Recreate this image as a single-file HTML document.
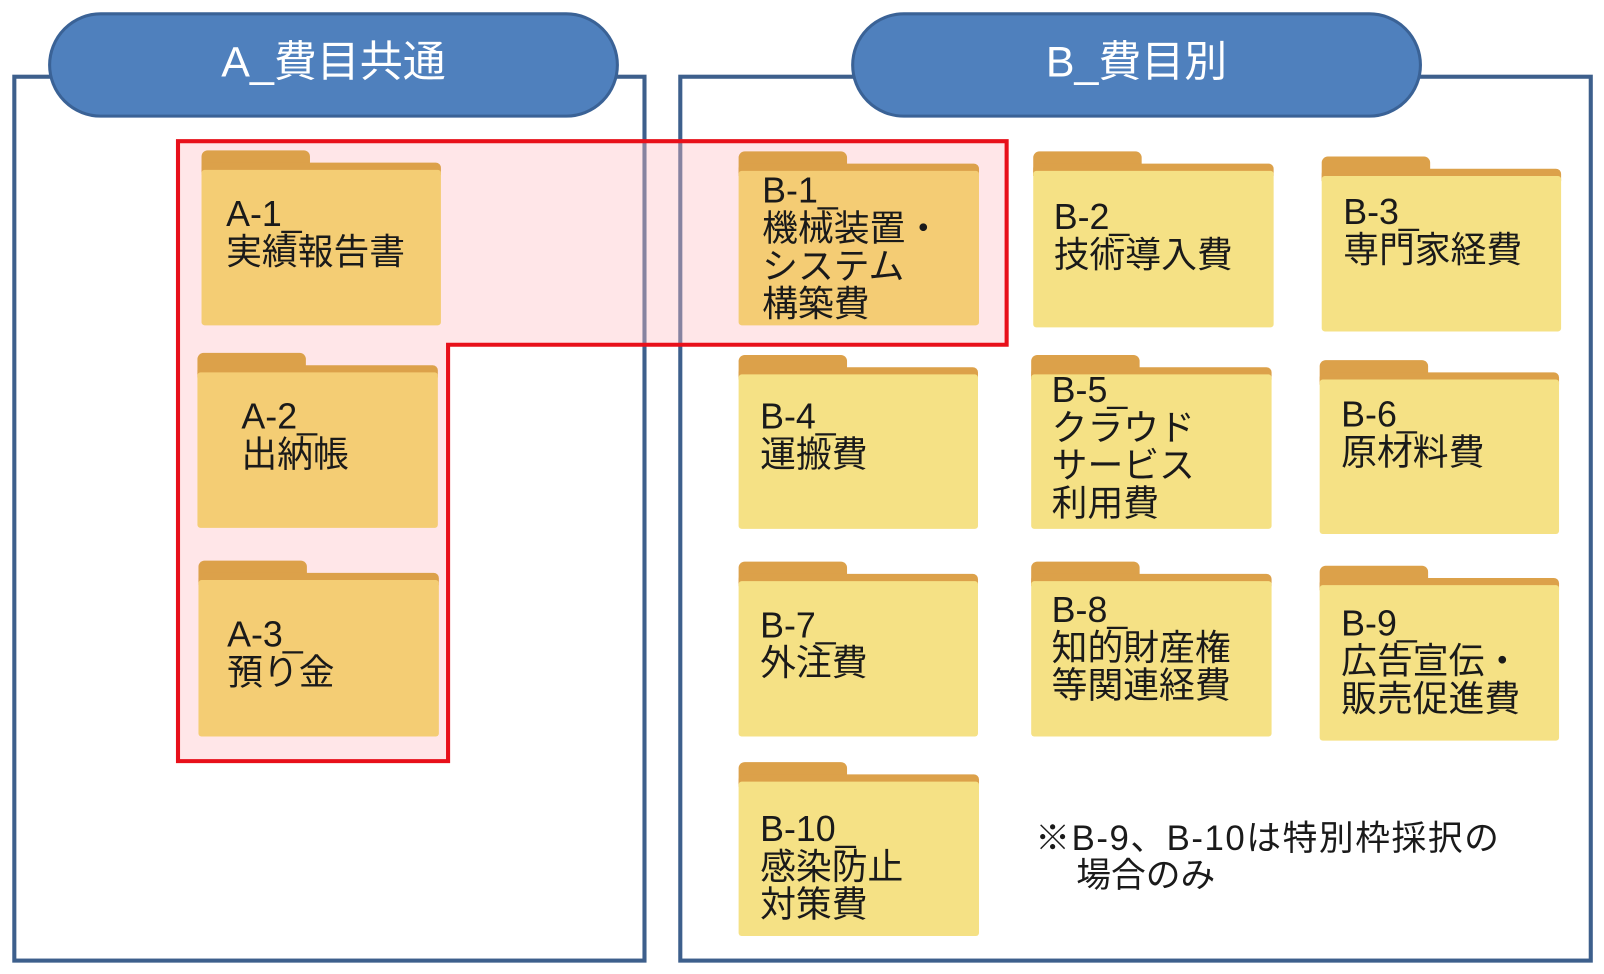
<!DOCTYPE html>
<html><head><meta charset="utf-8"><style>
html,body{margin:0;padding:0;background:#fff;width:1604px;height:974px;overflow:hidden}
#w{position:absolute;left:0;top:0;width:1568px;height:952px;transform:scale(1.023);transform-origin:0 0;font-family:"Liberation Sans","Noto Sans CJK JP",sans-serif}
.box{position:absolute;border:4px solid #3d5f8c;box-sizing:border-box}
.pill{position:absolute;background:#4f80bd;border:3px solid #3a6296;border-radius:52px;box-sizing:border-box;color:#fff;font-size:42px;text-align:center;line-height:92px}
.f{position:absolute}
.f .tab{position:absolute;left:0;top:0;width:106px;height:24px;background:#dca14a;border-radius:6px 6px 0 0}
.f .strip{position:absolute;left:0;right:0;top:12px;height:12px;background:#dca14a;border-radius:5px 5px 0 0}
.f .body{position:absolute;left:0;right:0;top:19px;bottom:0;border-radius:3px}
.t{position:absolute;font-size:35px;line-height:37px;color:#1a1a1a;white-space:nowrap}
</style></head><body><div id="w">
<div class="box" style="left:12px;top:73px;width:620px;height:868px"></div>
<div class="box" style="left:663px;top:73px;width:894px;height:868px"></div>
<svg style="position:absolute;left:0;top:0" width="1568" height="952"><polygon points="174,138 984,138 984,337 438,337 438,744 174,744" fill="rgba(255,190,195,0.38)" stroke="#e8101a" stroke-width="4"/></svg>
<div class="pill" style="left:47px;top:12px;width:558px;height:103px">A_費目共通</div>
<div class="pill" style="left:832px;top:12px;width:558px;height:103px">B_費目別</div>

<div class="f" style="left:197px;top:147px;width:234px;height:171px"><div class="tab"></div><div class="strip"></div><div class="body" style="background:#f4cd74"></div></div>
<div class="f" style="left:193px;top:345px;width:235px;height:171px"><div class="tab"></div><div class="strip"></div><div class="body" style="background:#f4cd74"></div></div>
<div class="f" style="left:194px;top:548px;width:235px;height:172px"><div class="tab"></div><div class="strip"></div><div class="body" style="background:#f4cd74"></div></div>
<div class="f" style="left:722px;top:148px;width:235px;height:170px"><div class="tab"></div><div class="strip"></div><div class="body" style="background:#f4cc74"></div></div>
<div class="f" style="left:1010px;top:148px;width:235px;height:172px"><div class="tab"></div><div class="strip"></div><div class="body" style="background:#f5e185"></div></div>
<div class="f" style="left:1292px;top:153px;width:234px;height:171px"><div class="tab"></div><div class="strip"></div><div class="body" style="background:#f5e185"></div></div>
<div class="f" style="left:722px;top:347px;width:234px;height:170px"><div class="tab"></div><div class="strip"></div><div class="body" style="background:#f5e185"></div></div>
<div class="f" style="left:1008px;top:347px;width:235px;height:170px"><div class="tab"></div><div class="strip"></div><div class="body" style="background:#f5e185"></div></div>
<div class="f" style="left:1290px;top:352px;width:234px;height:170px"><div class="tab"></div><div class="strip"></div><div class="body" style="background:#f5e185"></div></div>
<div class="f" style="left:722px;top:549px;width:234px;height:171px"><div class="tab"></div><div class="strip"></div><div class="body" style="background:#f5e185"></div></div>
<div class="f" style="left:1008px;top:549px;width:235px;height:171px"><div class="tab"></div><div class="strip"></div><div class="body" style="background:#f5e185"></div></div>
<div class="f" style="left:1290px;top:553px;width:234px;height:171px"><div class="tab"></div><div class="strip"></div><div class="body" style="background:#f5e185"></div></div>
<div class="f" style="left:722px;top:745px;width:235px;height:170px"><div class="tab"></div><div class="strip"></div><div class="body" style="background:#f5e185"></div></div>

<div class="t" style="left:221px;top:191px">A-1_<br>実績報告書</div>
<div class="t" style="left:236px;top:389px">A-2_<br>出納帳</div>
<div class="t" style="left:222px;top:602px">A-3_<br>預り金</div>
<div class="t" style="left:745px;top:168px">B-1_<br>機械装置・<br>システム<br>構築費</div>
<div class="t" style="left:1030px;top:194px">B-2_<br>技術導入費</div>
<div class="t" style="left:1313px;top:189px">B-3_<br>専門家経費</div>
<div class="t" style="left:743px;top:389px">B-4_<br>運搬費</div>
<div class="t" style="left:1028px;top:363px">B-5_<br>クラウド<br>サービス<br>利用費</div>
<div class="t" style="left:1311px;top:387px">B-6_<br>原材料費</div>
<div class="t" style="left:743px;top:593px">B-7_<br>外注費</div>
<div class="t" style="left:1028px;top:578px">B-8_<br>知的財産権<br>等関連経費</div>
<div class="t" style="left:1311px;top:591px">B-9_<br>広告宣伝・<br>販売促進費</div>
<div class="t" style="left:743px;top:792px">B-10_<br>感染防止<br>対策費</div>
<div class="t" style="left:1012px;top:802px;font-size:34px;line-height:36px;letter-spacing:1.5px">※B-9、B-10は特別枠採択の</div>
<div class="t" style="left:1052px;top:838px;font-size:34px;line-height:36px">場合のみ</div>
</div></body></html>
